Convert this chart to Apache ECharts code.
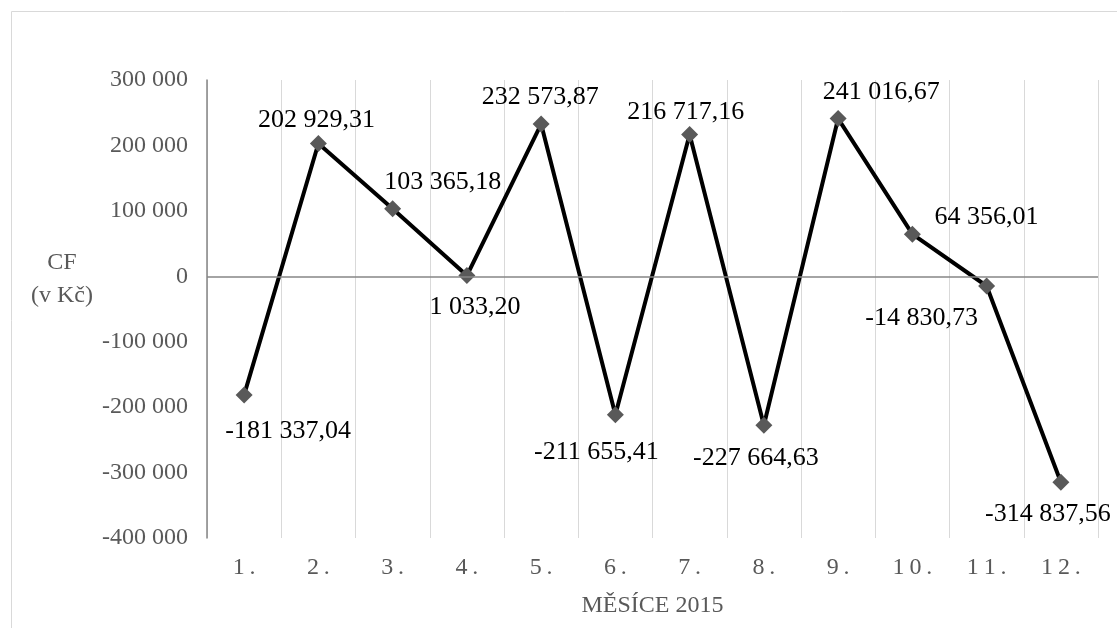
<!DOCTYPE html>
<html>
<head>
<meta charset="utf-8">
<script src="https://cdn.jsdelivr.net/npm/echarts@6/dist/echarts.min.js"></script>
<style>
  html, body { margin: 0; padding: 0; background: #fff; }
  #chart { width: 1117px; height: 628px; }
</style>
</head>
<body>
<div id="chart"></div>
<script>
// months of 2015
var months = ['1.', '2.', '3.', '4.', '5.', '6.', '7.', '8.', '9.', '10.', '11.', '12.'];

// cash flow in CZK
var cashFlow = [-181337.04, 202929.31, 103365.18, 1033.20, 232573.87, -211655.41,
                216717.16, -227664.63, 241016.67, 64356.01, -14830.73, -314837.56];

var yTicks = { min: -400000, max: 300000, step: 100000 };

var xTitle = 'MĚSÍCE 2015';
var yTitle = 'CF\n(v Kč)';

// where each value label sits relative to its marker (px)
var labelShift = [[44, 36], [-2, -23], [50, -26], [8, 32], [-1, -27], [-19, 37],
                  [-4, -22], [-8, 33], [43, -26], [74, -17], [-65, 32], [-13, 32]];

var FONT = '"Liberation Serif", "Times New Roman", serif';
var GREY = '#595959';

/* 202929.31 -> "202 929,31" */
function czk(v, decimals)
{
    var s = Math.abs(v).toFixed(decimals);
    var parts = s.split('.');
    var int = parts[0].replace(/\B(?=(\d{3})+(?!\d))/g, ' ');
    var out = (v < 0 ? '-' : '') + int;
    if (parts.length > 1) {
	out += ',' + parts[1];
    }
    return out;
}

var chart = echarts.init(document.getElementById('chart'));

chart.setOption({
    animation: false,
    grid: { left: 207, right: 19, top: 80, bottom: 90 },
    graphic: [
	{
	    type: 'rect',
	    shape: { x: 11.5, y: 11.5, width: 1300, height: 800 },
	    style: { fill: 'none', stroke: '#d9d9d9', lineWidth: 1 },
	    silent: true
	},
	{
	    type: 'text',
	    x: 62, y: 279,
	    style: {
		text: yTitle,
		font: '24px ' + FONT,
		fill: GREY,
		align: 'center',
		verticalAlign: 'middle',
		lineHeight: 33
	    }
	}
    ],
    xAxis: {
	type: 'category',
	data: months,
	boundaryGap: true,
	name: xTitle,
	nameLocation: 'middle',
	nameGap: 56,
	nameTextStyle: { color: GREY, fontSize: 24, fontFamily: FONT },
	axisLine: { show: false },
	axisTick: { show: false },
	axisLabel: {
	    color: GREY, fontSize: 24, fontFamily: FONT, margin: 18,
	    formatter: function (v) { return v.split('').join('\u2009'); }
	},
	splitLine: { show: true, lineStyle: { color: '#d9d9d9', width: 1 } }
    },
    yAxis: {
	type: 'value',
	min: yTicks.min,
	max: yTicks.max,
	interval: yTicks.step,
	axisLine: { show: true, lineStyle: { color: '#868686', width: 1.5 } },
	axisTick: { show: false },
	splitLine: { show: false },
	axisLabel: {
	    color: GREY, fontSize: 24, fontFamily: FONT, margin: 19,
	    formatter: function (v) { return czk(v, 0); }
	}
    },
    series: [{
	type: 'line',
	data: cashFlow.map(function (v, i) {
	    return { value: v, label: { offset: labelShift[i] } };
	}),
	symbol: 'diamond',
	symbolSize: 17,
	itemStyle: { color: GREY },
	lineStyle: { color: '#000', width: 4 },
	z: 3,
	label: {
	    show: true,
	    position: 'inside',
	    color: '#000',
	    fontSize: 26,
	    fontFamily: FONT,
	    formatter: function (p) { return czk(p.value, 2); }
	},
	markLine: {
	    silent: true,
	    symbol: 'none',
	    label: { show: false },
	    lineStyle: { color: '#868686', width: 1.5, type: 'solid' },
	    data: [{ yAxis: 0 }]
	}
    }]
});
</script>
</body>
</html>
